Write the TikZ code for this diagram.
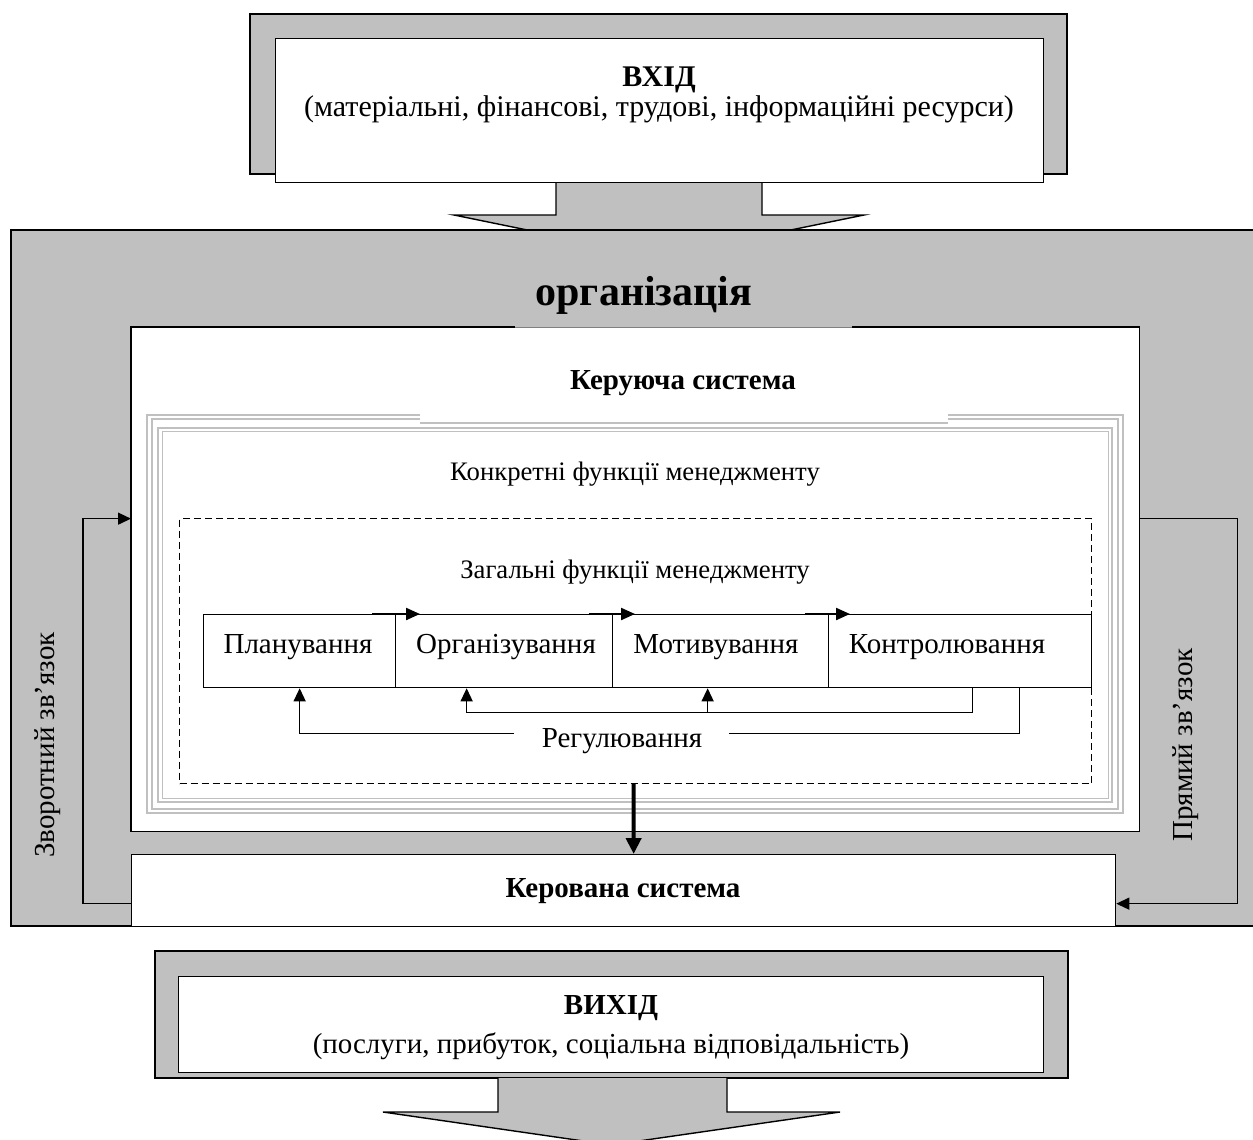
\documentclass[tikz,border=0pt]{standalone}
\usepackage{fontspec}
\setmainfont{Liberation Serif}
\usetikzlibrary{arrows.meta}
\definecolor{gr}{HTML}{C0C0C0}
\begin{document}
\begin{tikzpicture}[x=1pt,y=-1pt,
  blk/.style={draw=black,line width=1.4pt},
  box/.style={draw=black,line width=1.3pt,fill=white,inner sep=0pt,anchor=north west},
  txt/.style={font=\fontsize{29}{34}\selectfont,inner sep=0pt,anchor=base},
  btxt/.style={font=\fontsize{29}{34}\selectfont\bfseries,inner sep=0pt,anchor=base},
  stxt/.style={font=\fontsize{26.7}{31}\selectfont,inner sep=0pt,anchor=base},
  reg/.style={line width=1.3pt},
  regarrow/.style={line width=1.3pt,-{Triangle[length=13pt,width=12pt]}},
  toparr/.style={line width=2.2pt,-{Triangle[length=14pt,width=12pt]}},
  frm/.style={draw=gr,line width=2pt},
]
\useasboundingbox (0,0) rectangle (1253,1140);

% ---------- input block ----------
\filldraw[fill=gr,blk] (250,14) rectangle (1067,174);
\filldraw[fill=gr,blk] (556,182) -- (556,215) -- (454,215) -- (659,257) -- (864,215) -- (762,215) -- (762,182);
\node[box,minimum width=768,minimum height=144] (vin) at (275,38) {};
\node[btxt,font=\fontsize{30}{35}\selectfont\bfseries] (vint) at (659,87) {ВХІД};
\node[txt,font=\fontsize{30}{35}\selectfont] (vins) at (659,117) {(матеріальні, фінансові, трудові, інформаційні ресурси)};

% ---------- organisation frame ----------
\fill[gr] (11,230) rectangle (1253,926);
\draw[blk] (1253,230) -- (11,230) -- (11,926) -- (1253,926);
\node[font=\fontsize{42}{48}\selectfont\bfseries,inner sep=0pt,anchor=base] (orgt) at (644,305) {організація};

% managing system
\node[box,draw=none,minimum width=1007,minimum height=503] (kerb) at (131,327) {};
\draw[blk] (515,327) -- (kerb.north west) -- (kerb.south west) -- (kerb.south east) -- (kerb.north east) -- (852,327);
\draw[gray,line width=0.8pt] (515,327) -- (852,327);
\node[btxt] (kert) at (683,389) {Керуюча система};

% triple grey frame
\draw[frm] (420,415) -- (147,415) -- (147,813) -- (1123,813) -- (1123,415) -- (948,415);
\draw[frm] (420,419) -- (152,419) -- (152,809) -- (1118,809) -- (1118,419) -- (948,419);
\draw[frm] (420,423) -- (948,423);
\draw[frm] (158,428) rectangle (1112,802);
\draw[gr,line width=1pt] (162,431) rectangle (1108,798);

\node[stxt] (konk) at (635,480) {Конкретні функції менеджменту};

% general functions (dashed)
\node[draw=black,line width=1.2pt,dash pattern=on 7pt off 4pt,inner sep=0pt,anchor=north west,minimum width=912,minimum height=265] (zagb) at (179,518) {};
\node[stxt] (zag) at (635,578) {Загальні функції менеджменту};

% function boxes
\node[box,minimum width=192,minimum height=73] (plan) at (203,614) {};
\node[box,minimum width=217,minimum height=73] (orgz) at (395,614) {};
\node[box,minimum width=216,minimum height=73] (motyv) at (612,614) {};
\node[box,minimum width=263,minimum height=73] (kontr) at (828,614) {};
\node[txt] (plant) at (298,653) {Планування};
\node[txt] (orgzt) at (506,653) {Організування};
\node[txt] (motyvt) at (716,653) {Мотивування};
\node[txt] (kontrt) at (947,653) {Контролювання};

% arrows along the top
\draw[toparr] ([xshift=-23pt]orgz.north west) -- ([xshift=25pt]orgz.north west);
\draw[toparr] ([xshift=-23pt]motyv.north west) -- ([xshift=23pt]motyv.north west);
\draw[toparr] ([xshift=-23pt]kontr.north west) -- ([xshift=22pt]kontr.north west);

% regulation loops
\draw[regarrow] ([xshift=12.5pt]kontr.south) -- ++(0,24) -| ([xshift=-37.5pt]orgz.south);
\draw[regarrow] ([xshift=-13pt,yshift=-24pt]motyv.south) -- ([xshift=-13pt]motyv.south);
\node[txt] (regl) at (622,747) {Регулювання};
\draw[reg] ([xshift=59.5pt]kontr.south) |- ([xshift=27pt,yshift=7pt]regl.east);
\draw[regarrow] ([xshift=-28pt,yshift=7pt]regl.west) -| (plan.south);

% managed system
\node[box,minimum width=984,minimum height=72] (kerv) at (131,854) {};
\node[btxt] (kervt) at (623,897) {Керована система};
\draw[line width=4pt,-{Triangle[length=16pt,width=15pt]}] ([xshift=-2pt]zagb.south) -- ([xshift=10pt]kerv.north);

% feedback loops
\draw[regarrow] ([yshift=-13pt]kerv.west) -- ++(-48,0) |- ([yshift=60.5pt]kerb.west);
\draw[regarrow] ([yshift=60.5pt]kerb.east) -- ++(98,0) |- ([yshift=-13pt]kerv.east);
\node[font=\fontsize{29}{34}\selectfont,inner sep=0pt,rotate=90] (zvt) at (48,745) {Зворотний зв’язок};
\node[font=\fontsize{29}{34}\selectfont,inner sep=0pt,rotate=90] (prt) at (1186,745) {Прямий зв’язок};

% ---------- output block ----------
\filldraw[fill=gr,blk] (155,951) rectangle (1068,1078);
\filldraw[fill=gr,blk] (498,1078) -- (498,1112) -- (383,1112) -- (611,1145) -- (840,1112) -- (727,1112) -- (727,1078);
\node[box,minimum width=865,minimum height=96] (vyh) at (178,976) {};
\node[btxt] (vyht) at (611,1014) {ВИХІД};
\node[txt] (vyhs) at (611,1053) {(послуги, прибуток, соціальна відповідальність)};
\end{tikzpicture}
\end{document}
